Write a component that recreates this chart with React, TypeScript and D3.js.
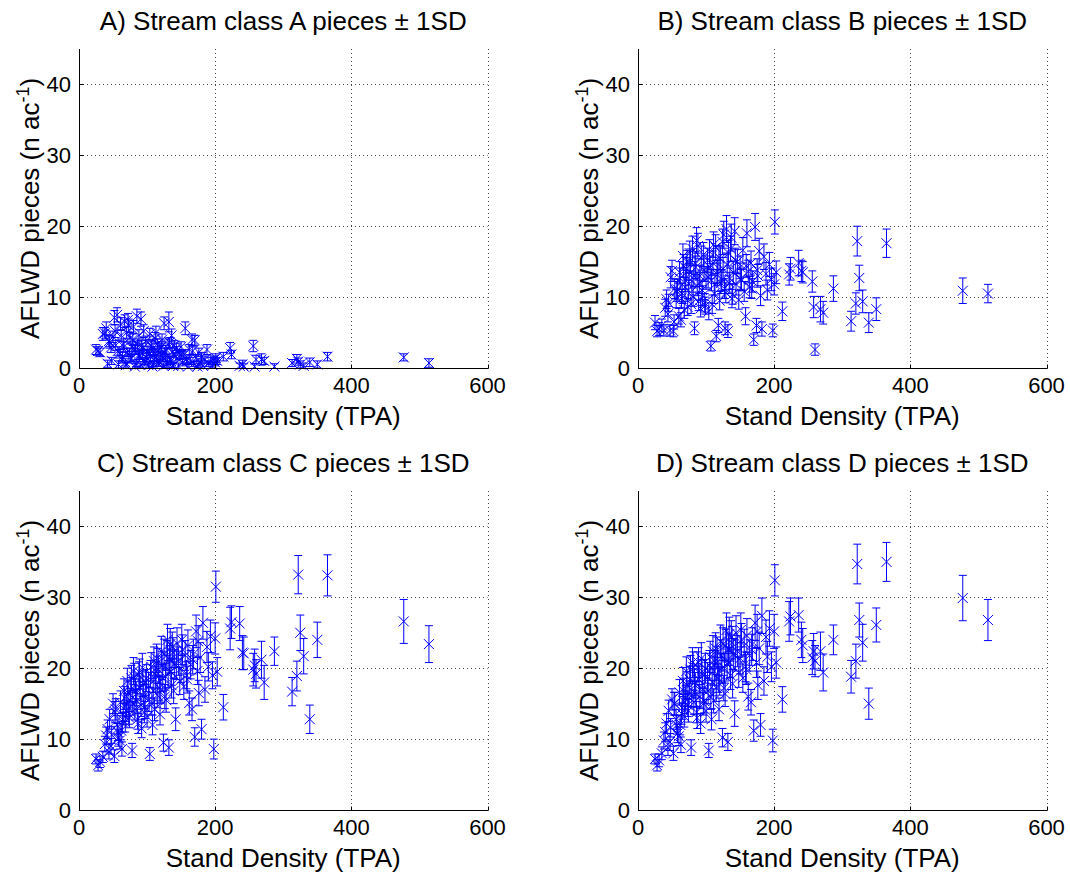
import React from 'react';
import * as d3 from 'd3';

// Stand density (TPA) of the surveyed sites (shared by all four stream classes)
const standDensity = [
  25, 28, 31, 35, 38, 40, 42, 44, 47, 50, 52, 54, 56, 58, 60,
  62, 63, 65, 67, 68, 70, 72, 74, 75, 77, 78, 80, 82, 83, 85, 87, 88, 90, 92, 93, 95, 97, 98, 100,
  102, 104, 105, 107, 108, 110, 112, 114, 115, 117, 119, 120, 122, 124, 125, 127, 128, 130, 132, 133, 135, 137, 139, 140,
  142, 144, 146, 148, 150, 152, 154, 156, 158, 160, 162, 164, 166, 168, 170, 172, 174, 176, 178, 180, 182, 185, 188, 190, 193, 196, 198, 200, 201, 203,
  212, 222, 224, 236, 240, 242, 256, 258, 260, 268, 272, 287, 313, 320, 322, 325, 330, 339, 350, 365, 477, 514,
  45, 48, 53, 57, 61, 64, 66, 69, 71, 73, 76, 79, 81, 84, 86, 89, 91, 94, 96, 99,
  103, 106, 109, 111, 113, 116, 118, 121, 123, 126, 129, 131, 134, 136, 138, 143, 151, 159, 167, 175,
];

const classAMean = [
  2.6, 2.4, 2.2, 4.8, 4.9, 5.6, 0.6, 3.8, 2.9, 4.4, 7.1, 3.2, 7.5, 0.5, 2.0,
  4.6, 1.2, 3.4, 6.6, 0.8, 5.0, 6.8, 2.2, 4.2, 1.4, 3.0, 5.8, 0.2, 2.6, 7.3, 1.8, 4.6, 0.5, 3.2, 2.0, 5.2, 1.0, 3.8, 2.4,
  0.4, 4.8, 1.6, 3.0, 0.2, 2.2, 4.2, 1.2, 3.4, 0.6, 2.8, 1.8, 4.0, 0.3, 6.3, 1.4, 2.6, 0.8, 6.5, 3.6, 1.0, 2.2, 0.4, 3.2,
  1.6, 2.4, 0.3, 1.8, 3.0, 0.8, 2.0, 5.6, 1.2, 0.2, 2.6, 1.0, 4.0, 0.6, 3.9, 1.4, 0.2, 2.2, 0.8, 1.6, 0.3, 1.2, 2.6, 0.6, 1.0, 0.4, 1.2, 0.8, 1.4, 1.0,
  1.6, 2.8, 1.9, 0.3, 0.5, 0.2, 3.1, 0.2, 1.2, 1.2, 1.0, 0.2, 0.7, 1.3, 0.9, 0.5, 0.3, 0.8, 0.5, 1.6, 1.5, 0.7,
  3.6, 1.0, 5.2, 2.4, 6.2, 1.6, 3.0, 0.4, 2.2, 6.0, 1.2, 4.0, 2.6, 0.6, 3.4, 1.8, 6.9, 2.8, 0.8, 1.5,
  2.0, 3.2, 0.6, 1.4, 5.0, 2.4, 0.9, 3.0, 1.6, 2.2, 0.5, 3.4, 1.2, 4.6, 0.3, 2.8, 1.9, 1.0, 2.4, 0.5,
];
const classASd = [
  0.7, 0.6, 0.6, 0.9, 0.8, 0.9, 0.5, 0.8, 0.7, 0.8, 1.0, 0.7, 1.0, 0.5, 0.6,
  0.8, 0.5, 0.7, 0.9, 0.5, 0.8, 0.9, 0.6, 0.8, 0.5, 0.7, 0.9, 0.4, 0.6, 1.0, 0.6, 0.8, 0.4, 0.7, 0.6, 0.9, 0.5, 0.7, 0.6,
  0.4, 0.8, 0.6, 0.7, 0.4, 0.6, 0.8, 0.5, 0.7, 0.4, 0.7, 0.6, 0.8, 0.4, 0.9, 0.5, 0.6, 0.5, 1.4, 0.7, 0.5, 0.6, 0.4, 0.7,
  0.6, 0.6, 0.4, 0.6, 0.7, 0.5, 0.6, 0.9, 0.5, 0.4, 0.7, 0.5, 0.8, 0.4, 0.7, 0.5, 0.4, 0.6, 0.5, 0.6, 0.4, 0.5, 0.7, 0.4, 0.5, 0.4, 0.5, 0.5, 0.6, 0.5,
  0.6, 0.8, 0.6, 0.4, 0.6, 0.4, 0.8, 0.4, 0.6, 0.8, 0.5, 0.4, 0.5, 0.6, 0.5, 0.5, 0.4, 0.6, 0.5, 0.6, 0.5, 0.6,
  0.8, 0.5, 0.9, 0.6, 0.9, 0.6, 0.7, 0.4, 0.6, 0.9, 0.5, 0.8, 0.7, 0.4, 0.7, 0.6, 1.0, 0.7, 0.5, 0.6,
  0.6, 0.7, 0.4, 0.5, 0.9, 0.6, 0.5, 0.7, 0.6, 0.6, 0.4, 0.7, 0.5, 0.9, 0.4, 0.7, 0.6, 0.5, 0.6, 0.4,
];

const classBMean = [
  6.4, 5.2, 5.5, 6.0, 5.3, 8.5, 9.7, 7.6, 5.3, 13.7, 5.2, 11.2, 9.8, 11.1, 7.3,
  12.6, 6.8, 10.5, 14.4, 8.2, 12.3, 15.0, 11.0, 13.2, 15.1, 9.0, 16.8, 13.0, 5.6, 14.2, 11.6, 17.2, 12.0, 8.4, 15.5, 10.2, 13.8, 9.2, 12.6,
  15.2, 8.0, 16.4, 3.1, 12.4, 14.8, 10.5, 17.0, 4.5, 13.2, 15.6, 9.5, 12.0, 17.8, 14.0, 11.2, 5.6, 19.6, 5.2, 16.2, 12.6, 18.4, 10.4, 13.5,
  19.3, 11.8, 15.0, 9.6, 14.2, 12.4, 16.6, 10.8, 7.3, 19.0, 13.6, 11.4, 14.8, 12.2, 4.0, 19.9, 6.0, 13.0, 16.5, 10.2, 5.5, 15.7, 13.3, 11.0, 14.6, 12.5, 5.3, 11.8, 20.6, 13.5,
  8.0, 13.2, 14.0, 14.8, 13.7, 13.5, 12.2, 8.6, 2.6, 8.3, 7.8, 11.2, 6.6, 9.1, 17.9, 12.7, 9.4, 6.4, 8.3, 17.6, 10.9, 10.5,
  9.2, 12.8, 6.5, 10.8, 13.5, 9.8, 15.8, 11.4, 14.0, 8.6, 16.2, 12.2, 10.0, 14.8, 18.0, 9.4, 13.0, 11.0, 16.0, 8.8,
  12.8, 14.2, 9.0, 17.4, 11.8, 13.6, 6.0, 15.4, 12.4, 18.8, 10.6, 14.6, 12.0, 16.8, 9.8, 15.2, 12.6, 14.4, 11.2, 13.8,
];
const classBSd = [
  1.0, 0.8, 0.9, 0.9, 0.8, 1.2, 1.3, 1.1, 0.8, 1.5, 0.8, 1.4, 1.3, 1.4, 1.1,
  1.5, 1.0, 1.4, 1.6, 1.2, 1.5, 1.6, 1.4, 1.5, 1.7, 1.3, 1.8, 1.5, 0.9, 1.6, 1.4, 1.8, 1.5, 1.2, 1.7, 1.4, 1.6, 1.3, 1.5,
  1.7, 1.2, 1.7, 0.7, 1.5, 1.7, 1.4, 1.8, 0.8, 1.6, 1.7, 1.3, 1.5, 1.8, 1.6, 1.4, 0.9, 1.9, 0.9, 1.8, 1.5, 1.9, 1.4, 1.6,
  1.9, 1.5, 1.7, 1.3, 1.6, 1.5, 1.8, 1.4, 1.2, 1.9, 1.6, 1.5, 1.7, 1.5, 0.8, 1.9, 1.0, 1.6, 1.8, 1.4, 1.0, 1.8, 1.6, 1.4, 1.7, 1.6, 0.9, 1.5, 1.7, 1.6,
  1.3, 1.5, 1.6, 1.8, 1.5, 1.5, 1.5, 1.5, 0.8, 1.8, 1.6, 1.8, 1.4, 1.5, 2.1, 1.8, 1.6, 1.4, 1.6, 2.0, 1.8, 1.3,
  1.2, 1.5, 1.0, 1.4, 1.5, 1.3, 1.7, 1.4, 1.6, 1.2, 1.7, 1.5, 1.3, 1.6, 1.8, 1.3, 1.5, 1.4, 1.7, 1.2,
  1.5, 1.6, 1.3, 1.8, 1.5, 1.6, 1.0, 1.7, 1.5, 1.9, 1.4, 1.6, 1.5, 1.8, 1.3, 1.7, 1.5, 1.6, 1.4, 1.6,
];

const classCMean = [
  7.2, 6.3, 6.8, 7.5, 9.3, 10.5, 11.4, 8.2, 9.0, 15.0, 7.6, 14.2, 12.0, 10.2, 9.8,
  11.2, 8.6, 13.5, 15.8, 12.4, 14.8, 16.5, 13.0, 15.5, 18.6, 8.4, 19.6, 14.2, 16.8, 15.4, 12.2, 19.0, 17.2, 11.5, 20.1, 16.0, 14.5, 18.0, 13.2,
  17.6, 7.9, 19.2, 15.0, 12.0, 21.0, 18.4, 21.4, 16.2, 19.8, 13.5, 17.0, 20.4, 9.5, 22.0, 18.8, 15.5, 24.0, 8.8, 21.2, 19.5, 23.0, 16.8, 20.6,
  12.8, 23.5, 21.0, 18.2, 20.0, 22.6, 17.4, 21.8, 19.0, 23.2, 15.1, 20.5, 14.2, 22.0, 10.3, 25.2, 19.6, 16.5, 21.5, 11.4, 26.4, 17.0, 23.0, 20.2, 24.5, 19.0, 8.6, 24.2, 31.5, 19.5,
  14.5, 25.6, 26.5, 26.3, 22.2, 22.1, 19.8, 20.4, 19.2, 21.2, 18.0, 22.4, 16.7, 18.9, 33.2, 25.0, 21.7, 12.8, 24.0, 33.1, 26.6, 23.4,
  12.8, 10.6, 13.8, 11.0, 15.2, 12.4, 16.8, 14.0, 18.2, 13.6, 17.0, 15.0, 18.8, 16.4, 12.8, 19.4, 14.8, 17.8, 13.8, 18.6,
  15.6, 20.2, 16.8, 14.2, 19.0, 20.8, 17.2, 22.4, 18.6, 16.0, 21.8, 19.2, 23.4, 17.6, 22.2, 20.4, 24.0, 18.4, 21.2, 23.8,
];
const classCSd = [
  0.7, 0.8, 0.8, 0.8, 1.1, 1.2, 1.3, 1.0, 1.1, 1.4, 0.9, 1.5, 1.3, 1.2, 1.2,
  1.3, 1.0, 1.5, 1.6, 1.4, 1.6, 1.7, 1.4, 1.6, 1.8, 1.0, 1.9, 1.5, 1.7, 1.6, 1.4, 1.9, 1.7, 1.3, 2.0, 1.7, 1.6, 1.8, 1.5,
  1.8, 0.9, 1.9, 1.6, 1.4, 2.0, 1.8, 2.0, 1.7, 1.9, 1.5, 1.8, 2.0, 1.2, 2.1, 1.9, 1.7, 2.2, 1.1, 2.0, 1.9, 2.1, 1.8, 2.0,
  1.6, 2.2, 2.0, 1.9, 2.0, 2.1, 1.8, 2.1, 1.9, 2.2, 1.7, 2.0, 1.6, 2.1, 1.3, 2.3, 1.9, 1.8, 2.1, 1.4, 2.3, 1.8, 2.2, 2.0, 2.3, 1.9, 1.4, 2.2, 2.2, 2.0,
  1.8, 3.0, 2.3, 2.4, 2.4, 2.3, 2.3, 2.3, 2.0, 2.6, 2.4, 2.0, 2.0, 2.1, 2.7, 2.5, 2.5, 2.0, 2.5, 2.9, 3.1, 2.6,
  1.4, 1.2, 1.5, 1.2, 1.6, 1.4, 1.7, 1.5, 1.8, 1.5, 1.7, 1.6, 1.9, 1.7, 1.4, 1.9, 1.6, 1.8, 1.5, 1.9,
  1.7, 2.0, 1.8, 1.6, 1.9, 2.0, 1.8, 2.1, 1.9, 1.7, 2.1, 1.9, 2.2, 1.8, 2.1, 2.0, 2.2, 1.9, 2.0, 2.2,
];

const classDMean = [
  7.2, 6.3, 7.0, 8.0, 9.8, 11.0, 12.2, 8.8, 9.6, 15.6, 8.0, 15.0, 12.8, 10.8, 10.4,
  12.0, 9.2, 14.4, 16.8, 13.2, 15.8, 17.6, 14.0, 16.4, 19.8, 8.8, 20.8, 15.2, 18.0, 16.4, 13.0, 20.2, 18.4, 12.2, 21.4, 17.0, 15.4, 19.2, 14.0,
  18.8, 8.4, 20.4, 16.0, 12.8, 22.4, 19.6, 22.8, 17.2, 21.0, 14.2, 18.2, 21.8, 10.2, 23.4, 20.0, 16.4, 25.4, 9.6, 22.6, 20.8, 24.4, 17.8, 22.0,
  13.6, 25.0, 22.4, 19.4, 21.4, 24.0, 18.6, 23.2, 20.2, 24.6, 16.0, 21.8, 15.2, 23.4, 11.2, 26.4, 20.8, 17.6, 22.8, 12.0, 27.4, 18.2, 24.4, 21.6, 25.6, 20.2, 9.8, 25.2, 32.4, 20.8,
  15.6, 26.6, 27.3, 27.5, 24.0, 23.2, 21.5, 22.4, 21.0, 22.4, 19.4, 24.0, 18.8, 21.0, 34.7, 26.8, 23.6, 15.0, 26.1, 35.0, 29.9, 26.8,
  14.0, 11.6, 15.0, 12.0, 16.6, 13.6, 18.2, 15.2, 19.6, 14.8, 18.4, 16.2, 20.2, 17.6, 13.8, 20.8, 16.0, 19.2, 15.0, 20.0,
  16.8, 21.6, 18.0, 15.4, 20.4, 22.2, 18.6, 23.8, 20.0, 17.2, 23.2, 20.6, 24.8, 19.0, 23.6, 21.8, 25.4, 19.8, 22.6, 25.2,
];
const classDSd = [
  0.7, 0.8, 0.9, 0.9, 1.2, 1.3, 1.4, 1.1, 1.2, 1.5, 1.0, 1.6, 1.4, 1.3, 1.3,
  1.4, 1.1, 1.6, 1.8, 1.5, 1.7, 1.9, 1.6, 1.8, 2.0, 1.1, 2.1, 1.7, 1.9, 1.8, 1.5, 2.1, 1.9, 1.4, 2.2, 1.9, 1.7, 2.0, 1.6,
  2.0, 1.0, 2.1, 1.8, 1.5, 2.2, 2.0, 2.2, 1.9, 2.1, 1.6, 2.0, 2.2, 1.3, 2.3, 2.1, 1.8, 2.4, 1.2, 2.2, 2.1, 2.3, 2.0, 2.2,
  1.8, 2.4, 2.2, 2.1, 2.2, 2.3, 2.0, 2.3, 2.1, 2.4, 1.9, 2.2, 1.8, 2.3, 1.5, 2.5, 2.1, 2.0, 2.3, 1.6, 2.5, 2.0, 2.4, 2.2, 2.5, 2.1, 1.6, 2.4, 2.2, 2.2,
  1.8, 2.8, 2.6, 2.4, 2.5, 2.4, 2.4, 2.5, 2.2, 2.7, 2.6, 2.1, 2.3, 2.4, 2.8, 2.4, 2.6, 2.2, 2.4, 2.75, 3.2, 2.9,
  1.5, 1.3, 1.6, 1.3, 1.8, 1.5, 1.9, 1.6, 2.0, 1.6, 1.9, 1.7, 2.1, 1.8, 1.5, 2.1, 1.7, 2.0, 1.6, 2.1,
  1.8, 2.2, 1.9, 1.7, 2.1, 2.2, 2.0, 2.3, 2.1, 1.8, 2.3, 2.1, 2.4, 2.0, 2.3, 2.2, 2.4, 2.1, 2.2, 2.4,
];

const panelTitles = [
  'A) Stream class A pieces \u00B1 1SD',
  'B) Stream class B pieces \u00B1 1SD',
  'C) Stream class C pieces \u00B1 1SD',
  'D) Stream class D pieces \u00B1 1SD',
];
const xTicks = [0, 200, 400, 600];
const yTicks = [0, 10, 20, 30, 40];
const xDomain = [0, 600];
const yDomain = [0, 45];
const xLabel = 'Stand Density (TPA)';

const W = 1070;
const H = 876;
const PW = 408.5;
const PH = 319;
const ORIGINS: [number, number][] = [
  [79, 49],
  [638, 49],
  [79, 491],
  [638, 491],
];
const FONT = '"Liberation Sans", Arial, Helvetica, sans-serif';
const BLUE = '#0000ff';
const MS = 5; // marker half size
const CAP = 4; // error cap half width

type PanelProps = {
  idx: number;
  left: number;
  top: number;
  title: string;
  means: number[];
  sds: number[];
};

function Panel({ idx, left, top, title, means, sds }: PanelProps) {
  const x = d3.scaleLinear().domain(xDomain).range([left, left + PW]);
  const y = d3.scaleLinear().domain(yDomain).range([top + PH, top]);
  const x0 = x(0);
  const y0 = y(0);
  const crisp = (v: number) => Math.round(v) + 0.5;
  const clipId = `clip-${idx}`;
  const cx = (left + left + PW) / 2;
  const cy = (top + top + PH) / 2;

  return (
    <g>
      <defs>
        <clipPath id={clipId}>
          <rect x={x0} y={y(45)} width={PW + 1} height={PH} />
        </clipPath>
      </defs>
      {xTicks.filter((t) => t > 0).map((t) => (
        <line key={`gx${t}`} x1={crisp(x(t))} x2={crisp(x(t))} y1={y(45)} y2={y0}
          stroke="#444" strokeWidth={1} strokeDasharray="1 3" />
      ))}
      {yTicks.filter((t) => t > 0).map((t) => (
        <line key={`gy${t}`} x1={x0} x2={x(600)} y1={crisp(y(t))} y2={crisp(y(t))}
          stroke="#444" strokeWidth={1} strokeDasharray="1 3" />
      ))}
      <g clipPath={`url(#${clipId})`} stroke={BLUE} strokeWidth={1} fill="none">
        {standDensity.map((d, i) => {
          const px = x(d);
          const lo = y(means[i] - sds[i]);
          const hi = y(means[i] + sds[i]);
          return (
            <path key={i}
              d={`M${px},${lo}V${hi}M${px - CAP},${lo}H${px + CAP}M${px - CAP},${hi}H${px + CAP}`} />
          );
        })}
      </g>
      <g stroke={BLUE} strokeWidth={1} fill="none">
        {standDensity.map((d, i) => {
          const px = x(d);
          const py = y(means[i]);
          return (
            <path key={i}
              d={`M${px - MS},${py - MS}L${px + MS},${py + MS}M${px - MS},${py + MS}L${px + MS},${py - MS}`} />
          );
        })}
      </g>
      <line x1={crisp(x0)} x2={crisp(x0)} y1={y(45)} y2={crisp(y0)} stroke="#000" strokeWidth={1} />
      <line x1={crisp(x0)} x2={crisp(x(600))} y1={crisp(y0)} y2={crisp(y0)} stroke="#000" strokeWidth={1} />
      {xTicks.map((t) => (
        <line key={`tx${t}`} x1={crisp(x(t))} x2={crisp(x(t))} y1={crisp(y0)} y2={crisp(y0) - 4} stroke="#000" />
      ))}
      {yTicks.map((t) => (
        <line key={`ty${t}`} x1={crisp(x0)} x2={crisp(x0) + 4} y1={crisp(y(t))} y2={crisp(y(t))} stroke="#000" />
      ))}
      {xTicks.map((t) => (
        <text key={`lx${t}`} x={x(t)} y={y0 + 25} textAnchor="middle" fontSize={22} fontFamily={FONT} fill="#000">
          {t}
        </text>
      ))}
      {yTicks.map((t) => (
        <text key={`ly${t}`} x={x0 - 8} y={y(t)} dy="0.36em" textAnchor="end" fontSize={22} fontFamily={FONT} fill="#000">
          {t}
        </text>
      ))}
      <text x={cx} y={top - 19} textAnchor="middle" fontSize={26} fontFamily={FONT} fill="#000">
        {title}
      </text>
      <text x={cx} y={y0 + 57} textAnchor="middle" fontSize={26} fontFamily={FONT} fill="#000">
        {xLabel}
      </text>
      <text transform={`translate(${x0 - 40},${cy}) rotate(-90)`} textAnchor="middle" fontSize={26} fontFamily={FONT} fill="#000">
        AFLWD pieces (n ac
        <tspan fontSize={18} dy={-10}>-1</tspan>
        <tspan dy={10}>)</tspan>
      </text>
    </g>
  );
}

export default function App() {
  const series = [
    [classAMean, classASd],
    [classBMean, classBSd],
    [classCMean, classCSd],
    [classDMean, classDSd],
  ];
  return (
    <svg width={W} height={H} style={{ position: 'absolute', left: 0, top: 0, background: '#fff' }}>
      <rect x={0} y={0} width={W} height={H} fill="#fff" />
      {series.map(([m, s], i) => (
        <Panel key={i} idx={i} left={ORIGINS[i][0]} top={ORIGINS[i][1]} title={panelTitles[i]} means={m} sds={s} />
      ))}
    </svg>
  );
}
